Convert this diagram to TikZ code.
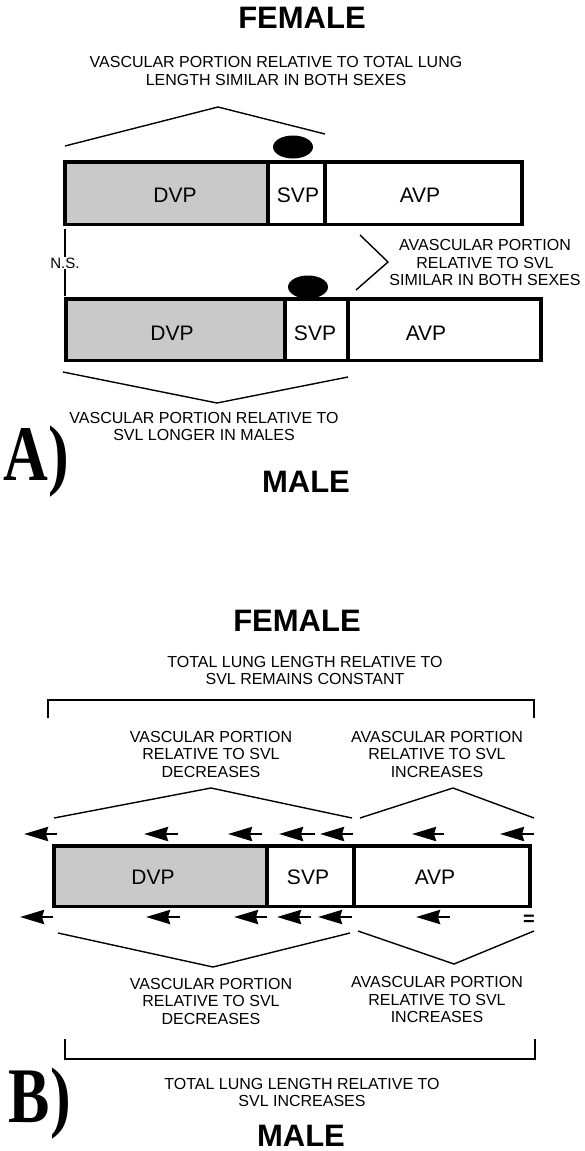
\documentclass[tikz,border=0pt]{standalone}
\usepackage{fontspec}
\setmainfont{Liberation Serif}
\setsansfont{Liberation Sans}
\usetikzlibrary{arrows.meta,shapes.geometric}

\begin{document}
\begin{tikzpicture}[x=1pt,y=-1pt,>=Stealth,
  every node/.style={font=\sffamily\fontsize{16}{17.5}\selectfont,align=center,inner sep=0pt},
  sexlabel/.style={font=\sffamily\bfseries\fontsize{31}{31}\selectfont},
  seg/.style={draw,line width=3.5pt,outer sep=0pt},
  dvpseg/.style={seg,fill=black!21},
  seglabel/.style={font=\sffamily\fontsize{21}{21}\selectfont},
  blob/.style={ellipse,fill=black,minimum width=40pt,minimum height=23pt},
  caret/.style={line width=1.4pt},
  mv/.style={line width=2.8pt,-{Stealth[length=24pt,width=14pt,inset=2pt]}},
  panel/.style={font=\rmfamily\bfseries\fontsize{62}{62}\selectfont}]
\useasboundingbox (0,0) rectangle (584,1151);

% A) female over male
\node[sexlabel] (femA) at (302,18) {FEMALE};
\node (vascF) at (276,71) {VASCULAR PORTION RELATIVE TO TOTAL LUNG\\LENGTH SIMILAR IN BOTH SEXES};
\draw[caret] (65,146) -- (218,107) -- (325,134);
\node[blob] (ovF) at (293,147) {};
\node[dvpseg,minimum width=203.25pt,minimum height=62.5pt] (dvpF) at (166.4,193) {};
\node[seg,minimum width=57pt,minimum height=62.5pt] (svpF) at (296.5,193) {};
\node[seg,minimum width=197.25pt,minimum height=62.5pt] (avpF) at (423.6,193) {};
\node[seglabel] (dvpFt) at (175,195) {DVP};
\node[seglabel] (svpFt) at (298,195) {SVP};
\node[seglabel] (avpFt) at (420,195) {AVP};

\node[font=\sffamily\fontsize{15}{15}\selectfont] (ns) at (65,263) {N.S.};
\draw[line width=2pt] (65,229) -- (ns.north);
\draw[line width=2pt] (ns.south) -- (65,296);
\draw[caret] (360,235) -- (388,262) -- (356,290);
\node (avascA) at (485,262.5) {AVASCULAR PORTION\\RELATIVE TO SVL\\SIMILAR IN BOTH SEXES};

\node[blob] (ovM) at (308,287) {};
\node[dvpseg,minimum width=219.25pt,minimum height=61.5pt] (dvpM) at (175.4,329.5) {};
\node[seg,minimum width=63pt,minimum height=61.5pt] (svpM) at (316.5,329.5) {};
\node[seg,minimum width=193.25pt,minimum height=61.5pt] (avpM) at (444.6,329.5) {};
\node[seglabel] (dvpMt) at (172,333) {DVP};
\node[seglabel] (svpMt) at (315,333) {SVP};
\node[seglabel] (avpMt) at (426,333) {AVP};
\draw[caret] (63,372) -- (217,403) -- (348,377);
\node (vascM) at (204,426.5) {VASCULAR PORTION RELATIVE TO\\SVL LONGER IN MALES};
\node[panel] (panA) at (36,462) {\scalebox{1}[1.27]{A)}};
\node[sexlabel] (malA) at (306,482) {MALE};

% B) growth of the portions
\node[sexlabel] (femB) at (297,621) {FEMALE};
\node (totF) at (305,670.5) {TOTAL LUNG LENGTH RELATIVE TO\\SVL REMAINS CONSTANT};
\draw[caret] (48,718) -- (48,700) -- (534,700) -- (534,718);
\node (vascBF) at (211,754) {VASCULAR PORTION\\RELATIVE TO SVL\\DECREASES};
\node (avascBF) at (437,754) {AVASCULAR PORTION\\RELATIVE TO SVL\\INCREASES};
\draw[caret] (54,818) -- (211,788) -- (352,818);
\draw[caret] (360,818) -- (453,788) -- (534,818);
\draw[mv] (57,834) -- (24,834);
\draw[mv] (178,834) -- (144,834);
\draw[mv] (262,834) -- (228,834);
\draw[mv] (315,834) -- (279,834);
\draw[mv] (353,834) -- (320,834);
\draw[mv] (444,834) -- (412,834);
\draw[mv] (534,834) -- (500,834);
\node[dvpseg,minimum width=213.25pt,minimum height=60.5pt] (dvpB) at (160.4,876) {};
\node[seg,minimum width=87pt,minimum height=60.5pt] (svpB) at (310.5,876) {};
\node[seg,minimum width=176.25pt,minimum height=60.5pt] (avpB) at (442.1,876) {};
\node[seglabel] (dvpBt) at (153,877) {DVP};
\node[seglabel] (svpBt) at (308,877) {SVP};
\node[seglabel] (avpBt) at (435,877) {AVP};
\draw[mv] (53,917) -- (20,917);
\draw[mv] (180,917) -- (146,917);
\draw[mv] (267,917) -- (234,917);
\draw[mv] (311,917) -- (277,917);
\draw[mv] (352,917) -- (318,917);
\draw[mv] (450,917) -- (416,917);
\node[font=\sffamily\bfseries\fontsize{20}{20}\selectfont] (same) at (529,920) {=};
\draw[caret] (58,933) -- (213,967) -- (350,933);
\draw[caret] (358,931) -- (454,964) -- (534,931);
\node (vascBM) at (211,1001) {VASCULAR PORTION\\RELATIVE TO SVL\\DECREASES};
\node (avascBM) at (437,999.5) {AVASCULAR PORTION\\RELATIVE TO SVL\\INCREASES};
\draw[caret] (65,1039) -- (65,1059) -- (535,1059) -- (535,1039);
\node (totM) at (302,1092.5) {TOTAL LUNG LENGTH RELATIVE TO\\SVL INCREASES};
\node[panel] (panB) at (40,1104) {\scalebox{1}[1.27]{B)}};
\node[sexlabel] (malB) at (301,1136) {MALE};
\end{tikzpicture}
\end{document}
